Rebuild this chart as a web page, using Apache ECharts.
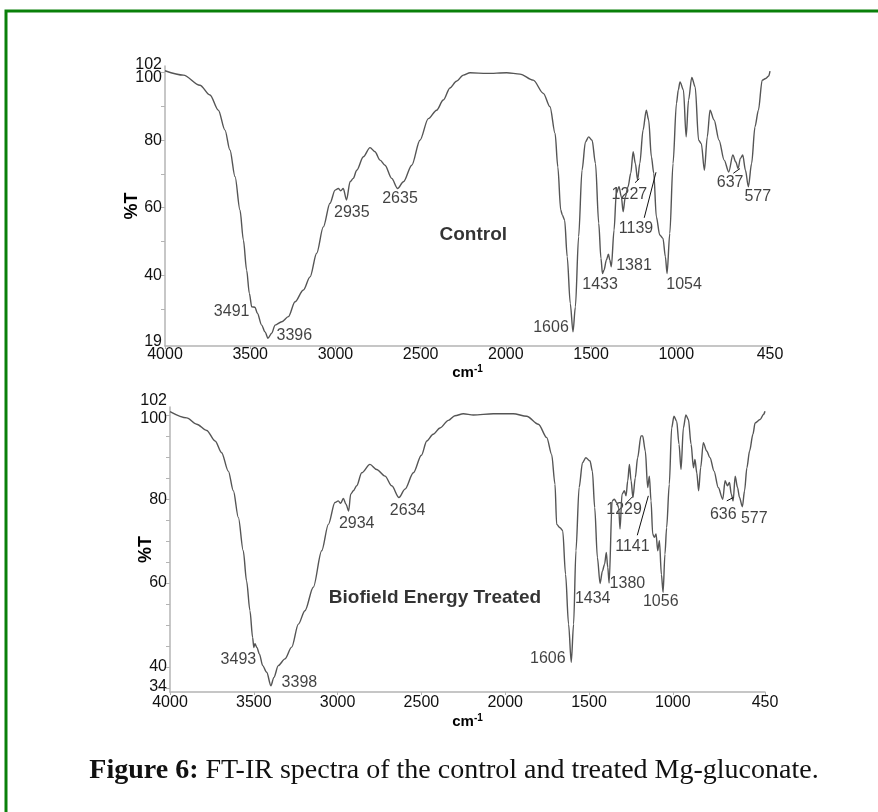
<!DOCTYPE html>
<html>
<head>
<meta charset="utf-8">
<title>FT-IR spectra of Mg-gluconate</title>
<script src="https://cdn.jsdelivr.net/npm/echarts@6/dist/echarts.min.js"></script>
<style>body{margin:0;background:#fff;}</style>
</head>
<body>
<div id="main" style="width:878px;height:812px;"></div>
<script>
// spectra: [wavenumber cm-1, %T]
var controlSpectrum = [
  [4000,100.6],[3892,99.3],[3795,96.3],[3736,93.4],[3687,88.9],[3648,83],[3619,77.1],[3589,69.2],
  [3560,59.3],[3540,50.4],[3521,41.5],[3505,34.6],[3491,30.6],[3472,30.5],[3458,28.7],[3433,25.2],
  [3413,23.2],[3396,21.3],[3374,22.8],[3354,25.2],[3315,26.2],[3276,27.7],[3237,32.1],[3188,35.6],
  [3149,39.5],[3110,46.5],[3071,54.3],[3032,61.3],[3002,65.2],[2983,65.7],[2969,65],[2954,65.7],
  [2935,62.3],[2914,67.7],[2895,68.7],[2875,71.1],[2836,75.1],[2797,77.8],[2768,76.6],[2738,74.1],
  [2709,72.6],[2670,68.7],[2635,65.7],[2601,67.7],[2552,72.6],[2504,80],[2455,86.4],[2406,88.9],
  [2367,91.9],[2328,95.5],[2290,97.5],[2249,99.3],[2210,100],[2112,99.8],[1995,100],[1917,99.6],
  [1839,97.8],[1780,93.9],[1741,89.9],[1711,82],[1695,72.1],[1678,59.3],[1668,57.8],[1655,56.3],
  [1640,45.5],[1622,31.6],[1606,23.2],[1592,30.6],[1573,51.4],[1553,71.1],[1533,79.5],[1514,81],
  [1494,80],[1474,73.1],[1455,55.4],[1442,45],[1433,40.5],[1424,41.5],[1410,44.5],[1398,46.2],
  [1390,44.5],[1381,42.5],[1365,53.4],[1352,64.2],[1336,66.2],[1322,63.2],[1312,58.8],[1299,63.2],
  [1283,66.2],[1267,70.2],[1253,76.6],[1240,73.1],[1227,68.2],[1214,73.1],[1195,83],[1176,88.9],
  [1162,86],[1146,75.1],[1132,70.2],[1117,57.3],[1097,51.9],[1078,50.9],[1064,45.5],[1054,40.5],
  [1038,52.4],[1019,73.1],[999,90.9],[988,94.9],[978,97.3],[958,94.9],[942,81],[928,91.9],
  [909,98.6],[889,95.8],[869,80],[853,79],[835,71.1],[818,81],[802,88.9],[778,86],[749,80],
  [719,74.1],[692,70.6],[668,75.6],[651,73.6],[637,71.6],[624,74.6],[610,75.6],[594,71.1],
  [577,66.2],[558,73.1],[538,84],[518,88.9],[496,97.8],[475,98.3],[458,99],[450,100.5]
];
var treatedSpectrum = [
  [4000,100.9],[3900,99.4],[3841,97.9],[3781,96.4],[3731,93.9],[3692,91.1],[3652,86.7],[3622,82],
  [3592,75.6],[3563,67.7],[3543,60.5],[3523,53.4],[3507,47],[3500,44.6],[3493,45.5],[3481,44.6],
  [3467,43.1],[3447,40.3],[3423,38.7],[3398,35.5],[3380,37.5],[3354,40.3],[3314,41.9],[3274,44.7],
  [3234,50.2],[3195,53.4],[3145,59],[3095,67.7],[3055,74],[3016,79.2],[2996,79.6],[2982,79],
  [2966,80.2],[2950,78.8],[2934,77.2],[2922,81.2],[2906,82],[2886,83.2],[2856,86.3],[2807,88.3],
  [2767,87.1],[2717,85.5],[2677,83.2],[2634,80.4],[2598,82.4],[2548,86.3],[2500,90.5],[2468,93.9],
  [2430,95.5],[2389,97],[2339,98.8],[2300,99.9],[2250,100.4],[2190,100.1],[2071,100.4],[1952,100.4],
  [1872,99.8],[1802,97.9],[1752,94.7],[1723,90.7],[1703,83.6],[1693,74],[1673,73.2],[1657,72.5],
  [1640,62.1],[1622,50.2],[1606,41.1],[1592,50.2],[1578,67.7],[1559,82.8],[1539,88.7],[1519,89.9],
  [1494,89.1],[1480,86.7],[1466,78],[1450,66.1],[1434,59.9],[1420,62.9],[1407,64.5],[1397,67.3],
  [1388,63.7],[1380,60],[1362,79.6],[1349,80],[1335,79.2],[1323,78],[1315,72.9],[1303,81.2],
  [1289,82],[1279,80.8],[1269,84.4],[1259,88.3],[1249,84.4],[1238,80.4],[1224,85.1],[1210,89.9],
  [1190,95.1],[1180,95.1],[1164,91.5],[1150,82.8],[1140,85.5],[1130,79.6],[1120,71.7],[1110,70.9],
  [1100,71.7],[1090,67.7],[1080,70.1],[1068,62],[1058,57.8],[1047,66.9],[1037,73.2],[1021,83.6],
  [1007,97],[993,99.8],[977,98.6],[963,93.1],[951,87.1],[937,97],[922,100.1],[907,99],[891,93.1],
  [877,87.5],[868,89.5],[857,86.3],[846,82],[834,87.5],[818,93.5],[798,91.5],[778,89.9],[754,86.7],
  [729,82.8],[702,80],[688,84.4],[674,83.2],[662,84],[651,81.2],[640,79.6],[628,85.5],[614,82.8],
  [602,80.4],[585,78.2],[572,82],[558,87.5],[542,91.5],[522,95.5],[509,98.2],[479,99],[459,100.2],
  [450,101]
];

// peak labels: [text, wavenumber of text centre, %T of text centre]
var controlPeaks = [
  ['3491',3609,29.2],['3396',3241,22],['2935',2904,58.6],['2635',2621,62.6],['1606',1735,24.4],
  ['1433',1447,37.1],['1381',1248,42.7],['1227',1275,64],['1139',1236,53.7],['1054',954,37.1],
  ['637',684,67.4],['577',522,63.2]
];
var treatedPeaks = [
  ['3493',3592,41.7],['3398',3228,36.2],['2934',2886,74.2],['2634',2582,77.2],['1606',1746,41.9],
  ['1434',1478,56.4],['1380',1271,59.9],['1229',1291,77.6],['1141',1241,68.7],['1056',1072,55.5],
  ['636',699,76.4],['577',514,75.4]
];
var sampleNames = [['Control',2191,51.9],['Biofield Energy Treated',2419,56.6]];

// short leader lines from a label to its band
var controlLeaders = [[[1242,67.4],[1217,68.6]],[[1188,57],[1119,70.5]],[[665,70.2],[626,71.6]]];
var treatedLeaders = [[[1275,79.2],[1240,80.6]],[[1212,71.4],[1146,80.8]],[[678,79.6],[639,80.4]]];

var xLabels = [4000,3500,3000,2500,2000,1500,1000,450];
var yLabelsTop = [40,60,80];
var yTicksTop = [30,40,50,60,70,80,90,100];
var yLabelsBottom = [40,60,80];
var yTicksBottom = [35,40,45,50,55,60,65,70,75,80,85,90,95,100];

var font = 'Arial, "Liberation Sans", sans-serif';
var textColor = '#111';
var axisGrey = '#b4b4b4';

var myChart = echarts.init(document.getElementById('main'));

function plain(v) { return String(v); }

function xAxisFor(idx, gap) {
  return {
    type: 'value', gridIndex: idx, min: 450, max: 4000, inverse: true,
    axisLine: {lineStyle: {color: axisGrey, width: 1.5}},
    axisTick: {show: true, length: 3, customValues: xLabels, lineStyle: {color: axisGrey}},
    axisLabel: {customValues: xLabels, formatter: plain, hideOverlap: false, showMinLabel: true, showMaxLabel: true,
                fontSize: 16, color: textColor, fontFamily: font, margin: idx ? 3 : 1},
    splitLine: {show: false},
    name: '{c|cm}{s|-1}', nameLocation: 'middle', nameGap: gap, nameMoveOverlap: false,
    nameTextStyle: {rich: {
      c: {fontSize: 15, fontWeight: 'bold', color: '#000', fontFamily: font},
      s: {fontSize: 10, fontWeight: 'bold', color: '#000', fontFamily: font, verticalAlign: 'top', padding: [0,0,8,0]}
    }}
  };
}
function yAxisFor(idx, min, labels, ticks, gap) {
  return {
    type: 'value', gridIndex: idx, min: min, max: 102, position: 'left',
    axisLine: {show: true, lineStyle: {color: axisGrey, width: 1.5}},
    axisTick: {show: true, length: 4, customValues: ticks, lineStyle: {color: axisGrey}},
    axisLabel: {customValues: labels, formatter: plain, hideOverlap: false,
                fontSize: 16, color: textColor, fontFamily: font, margin: 3},
    splitLine: {show: false},
    name: '%T', nameLocation: 'middle', nameGap: gap, nameRotate: 90, nameMoveOverlap: false,
    nameTextStyle: {fontSize: 18, fontWeight: 'bold', color: '#000', fontFamily: font}
  };
}
// one extra axis per end label so that 102/100 and the bottom value can sit a few px off their ticks
function labelAxis(idx, min, value, shift) {
  return {
    type: 'value', gridIndex: idx, min: min, max: 102, position: 'left',
    axisLine: {show: false}, axisTick: {show: false}, splitLine: {show: false},
    axisLabel: {customValues: [value], formatter: plain, showMinLabel: true, showMaxLabel: true, hideOverlap: false,
                fontSize: 16, color: textColor, fontFamily: font, margin: 3,
                verticalAlign: shift < 0 ? 'bottom' : 'top', lineHeight: Math.max(1, Math.abs(shift) * 2)}
  };
}
function labelSeries(idx, items, size, weight) {
  return {
    type: 'scatter', xAxisIndex: idx, yAxisIndex: idx, symbolSize: 0, silent: true,
    data: items.map(function (p) { return {name: p[0], value: [p[1], p[2]]}; }),
    label: {show: true, position: 'inside', formatter: '{b}', fontSize: size, fontWeight: weight,
            color: weight === 'bold' ? '#000' : textColor, fontFamily: font}
  };
}
function leaderSeries(idx, pts) {
  return {type: 'line', xAxisIndex: idx, yAxisIndex: idx, data: pts, symbol: 'none', silent: true,
          lineStyle: {color: '#111', width: 1}};
}

var series = [
  {type: 'line', xAxisIndex: 0, yAxisIndex: 0, data: controlSpectrum, symbol: 'none', smooth: 0.3,
   smoothMonotone: 'x', lineStyle: {color: '#555', width: 1.4}},
  {type: 'line', xAxisIndex: 1, yAxisIndex: 1, data: treatedSpectrum, symbol: 'none', smooth: 0.3,
   smoothMonotone: 'x', lineStyle: {color: '#555', width: 1.4}},
  labelSeries(0, controlPeaks, 16, 'normal'),
  labelSeries(1, treatedPeaks, 16, 'normal'),
  labelSeries(0, [sampleNames[0]], 19, 'bold'),
  labelSeries(1, [sampleNames[1]], 19, 'bold')
];
controlLeaders.forEach(function (l) { series.push(leaderSeries(0, l)); });
treatedLeaders.forEach(function (l) { series.push(leaderSeries(1, l)); });

option = {
  animation: false,
  backgroundColor: '#fff',
  grid: [
    {left: 165, right: 108, top: 66, height: 280},
    {left: 170, right: 113, top: 407, height: 285}
  ],
  xAxis: [xAxisFor(0, 18), xAxisFor(1, 21)],
  yAxis: [
    yAxisFor(0, 19, yLabelsTop, yTicksTop, 24),
    yAxisFor(1, 34, yLabelsBottom, yTicksBottom, 15),
    labelAxis(0, 19, 102, -1), labelAxis(0, 19, 100, 4.5), labelAxis(0, 19, 19, -4),
    labelAxis(1, 34, 102, -6.5), labelAxis(1, 34, 100, 3.5), labelAxis(1, 34, 34, -5)
  ],
  series: series,
  graphic: [
    {type: 'rect', shape: {x: 6, y: 11, width: 900, height: 900}, silent: true,
     style: {fill: null, stroke: '#0a800a', lineWidth: 3}},
    {type: 'text', x: 454, y: 771, silent: true,
     style: {text: '{b|Figure 6:} FT-IR spectra of the control and treated Mg-gluconate.',
             fontFamily: '"Liberation Serif", serif', fontSize: 28, fill: '#111',
             align: 'center', verticalAlign: 'middle',
             rich: {b: {fontWeight: 'bold', fontFamily: '"Liberation Serif", serif', fontSize: 28, fill: '#111'}}}}
  ]
};

myChart.setOption(option);
</script>
</body>
</html>
